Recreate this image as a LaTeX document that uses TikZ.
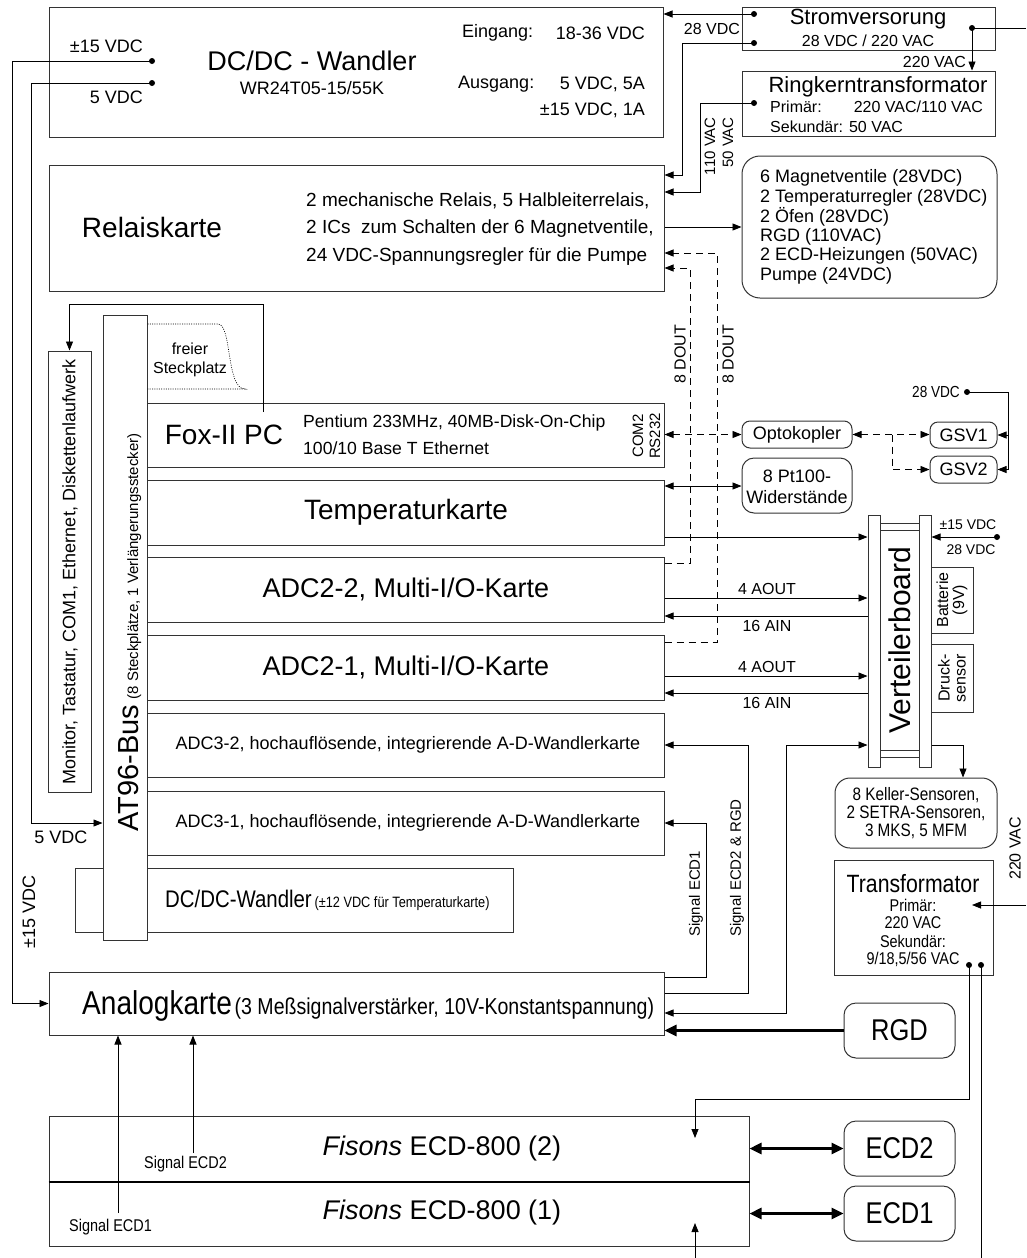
\documentclass[tikz,border=0pt]{standalone}
\usepackage{fontspec}
\setmainfont{Liberation Sans}
\newfontfamily\nar{Liberation Sans}[FakeStretch=0.85]
\usetikzlibrary{arrows.meta,fit}
\newcommand\fsz[1]{\fontsize{#1}{#1}\selectfont}
\begin{document}
\begin{tikzpicture}[x=1pt,y=-1pt,
 bx/.style={draw=black!80, line width=1pt, inner sep=0pt},
 rbx/.style={bx, rounded corners=12pt},
 wire/.style={draw=black, line width=0.8pt},
 arr/.style={wire, -{Triangle[length=9pt,width=7pt]}},
 darr/.style={wire, {Triangle[length=9pt,width=7pt]}-{Triangle[length=9pt,width=7pt]}},
 dsh/.style={wire, dash pattern=on 7pt off 5pt},
 thk/.style={draw=black, line width=2.6pt, -{Triangle[length=12pt,width=11pt]}},
 thkd/.style={draw=black, line width=2.6pt, {Triangle[length=12pt,width=11pt]}-{Triangle[length=12pt,width=11pt]}},
 blob/.style={circle, fill=black, inner sep=0pt, minimum size=6pt},
 every node/.append style={inner sep=0pt},
]
\useasboundingbox (0,0) rectangle (1026,1258);
\fill[white] (0,0) rectangle (1026,1258);

% ---------- DC/DC Wandler ----------
\node[bx, fit={(49,7)(663,137)}] (dc) {};
\node[font={\fsz{27}}] (dct) at (312,61) {DC/DC - Wandler};
\node[font={\fsz{18}}] (dcs) at (312,88) {WR24T05-15/55K};
\node[font={\fsz{18}}, anchor=west] (ein) at (462,33) {Eingang:};
\node[font={\fsz{18}}, anchor=east] (einv) at (645,33) {18-36 VDC};
\node[font={\fsz{18}}, anchor=west] (aus) at (458,84) {Ausgang:};
\node[font={\fsz{18}}, anchor=east] (ausv1) at (645,84) {5 VDC, 5A};
\node[font={\fsz{18}}, anchor=east] (ausv2) at (645,110) {±15 VDC, 1A};
\node[blob] (d15) at (152,61) {};
\node[blob] (d5) at (152,83) {};
\node[font={\fsz{18}}, anchor=east] (l15) at (143,46) {±15 VDC};
\node[font={\fsz{18}}, anchor=east] (l5) at (143,97) {5 VDC};

% ---------- Stromversorung ----------
\node[bx, fit={(742,7)(995,50)}] (strom) {};
\node[font={\fsz{22}}] (stt) at (868,19) {Stromversorung};
\node[font={\fsz{16}}] (sts) at (868,41) {28 VDC / 220 VAC};
\node[blob] (s1) at (754,14) {};
\node[blob] (s2) at (754,43) {};
\node[blob] (s3) at (972,28) {};
\node[font={\fsz{16}}] (l28) at (712,29) {28 VDC};

% ---------- Ringkerntransformator ----------
\node[bx, fit={(742,71)(995,136)}] (ring) {};
\node[font={\fsz{22}}] (rt) at (878,87) {Ringkerntransformator};
\node[font={\fsz{16}}, anchor=west] (rp) at (770,107) {Primär:};
\node[font={\fsz{16}}, anchor=east] (rpv) at (983,107) {220 VAC/110 VAC};
\node[font={\fsz{16}}, anchor=west] (rs) at (770,127) {Sekundär: 50 VAC};
\node[blob] (r1) at (754,103) {};
\node[font={\fsz{16}}, anchor=east] (l220) at (966,62) {220 VAC};

% ---------- Relaiskarte ----------
\node[bx, fit={(49,165)(664,291)}] (relais) {};
\node[font={\fsz{28}}] (relt) at (152,227) {Relaiskarte};
\node[font={\fsz{19}}, anchor=west] (rel1) at (306,201) {2 mechanische Relais, 5 Halbleiterrelais,};
\node[font={\fsz{19}}, anchor=west] (rel2) at (306,229) {2 ICs\ \ zum Schalten der 6 Magnetventile,};
\node[font={\fsz{19}}, anchor=west] (rel3) at (306,257) {24 VDC-Spannungsregler für die Pumpe};

\node[rbx, rounded corners=18pt, fit={(742,156)(997,298)}] (mag) {};
\node[font={\fsz{18}}, anchor=west] (m1) at (760,178) {6 Magnetventile (28VDC)};
\node[font={\fsz{18}}, anchor=west] (m2) at (760,197.5) {2 Temperaturregler (28VDC)};
\node[font={\fsz{18}}, anchor=west] (m3) at (760,217) {2 Öfen (28VDC)};
\node[font={\fsz{18}}, anchor=west] (m4) at (760,236.5) {RGD (110VAC)};
\node[font={\fsz{18}}, anchor=west] (m5) at (760,256) {2 ECD-Heizungen (50VAC)};
\node[font={\fsz{18}}, anchor=west] (m6) at (760,275.5) {Pumpe (24VDC)};

% ---------- Cards ----------
\node[bx, fit={(147,403)(664,467)}] (fox) {};
\node[bx, fit={(147,480)(664,545)}] (temp) {};
\node[bx, fit={(147,557)(664,622)}] (adc22) {};
\node[bx, fit={(147,635)(664,700)}] (adc21) {};
\node[bx, fit={(147,713)(664,777)}] (adc32) {};
\node[bx, fit={(147,791)(664,855)}] (adc31) {};
\node[bx, fit={(75,868)(513,932)}] (dcw) {};
\node[bx, fill=white, fit={(103,315)(147,940)}] (bus) {};
\node[bx, fit={(48,351)(91,792)}] (mon) {};
\node[bx, fit={(49,972)(664,1035)}] (ana) {};

\node[font={\fsz{28}}] (foxt) at (224,435) {Fox-II PC};
\node[font={\fsz{17.6}}, anchor=west] (fox1) at (303,423) {Pentium 233MHz, 40MB-Disk-On-Chip};
\node[font={\fsz{17.6}}, anchor=west] (fox2) at (303,448) {100/10 Base T Ethernet};
\node[font={\fsz{15}}, rotate=90] (com2) at (638,436) {COM2};
\node[font={\fsz{15}}, rotate=90] (rs232) at (655,436) {RS232};
\node[font={\fsz{28}}] (tempt) at (406,512) {Temperaturkarte};
\node[font={\fsz{27}}] (a22t) at (406,589) {ADC2-2, Multi-I/O-Karte};
\node[font={\fsz{27}}] (a21t) at (406,667) {ADC2-1, Multi-I/O-Karte};
\node[font={\fsz{18}}] (a32t) at (408,745) {ADC3-2, hochauflösende, integrierende A-D-Wandlerkarte};
\node[font={\fsz{18}}] (a31t) at (408,823) {ADC3-1, hochauflösende, integrierende A-D-Wandlerkarte};
\node[anchor=base west] (dcwt) at (165,907) {{\nar\fsz{24}DC/DC-Wandler} {\nar\fsz{15}(±12 VDC für Temperaturkarte)}};
\node[rotate=90, anchor=base west] (bust) at (138,832) {{\fsz{29}AT96-Bus}\ \ {\fsz{15}(8 Steckplätze, 1 Verlängerungsstecker)}};
\node[font={\fsz{18}}, rotate=90] (mont) at (70,572) {Monitor, Tastatur, COM1, Ethernet, Diskettenlaufwerk};
\node[anchor=base west] (anat) at (82,1014) {{\nar\fsz{33}Analogkarte} {\nar\fsz{23}(3 Meßsignalverstärker, 10V-Konstantspannung)}};

% freier Steckplatz
\draw[line width=0.6pt, dash pattern=on 1pt off 1.3pt] (bus.east |- 0,324) -- (218,324) .. controls (232,324) and (226,389) .. (245,389) -- (bus.east |- 0,389);
\node[font={\fsz{16}}] (fr1) at (190,349) {freier};
\node[font={\fsz{16}}] (fr2) at (190,369) {Steckplatz};
\coordinate (foxtap) at (263,412);
\draw[arr] (foxtap) -- (263,304) -| (mon.north);

% power wires
\draw[arr] (d15.center) -- (12,61) |- (ana.west);
\draw[arr] (d5.center) -- (31,83) |- (bus.west |- 0,823);
\node[font={\fsz{18}}] (l5b) at (61,837) {5 VDC};
\node[font={\fsz{18}}, rotate=90] (l15b) at (29,912) {±15 VDC};

\draw[arr] (s1.center) -- (s1 -| dc.east);
\draw[wire] (s3.center) -- (1026,28);
\draw[arr] (s3.center) -- (s3 |- ring.north);
\draw[arr] (s2.center) -| (682,175) -- (relais.east |- 0,175);
\draw[arr] (r1.center) -| (700,192) -- (relais.east |- 0,192);
\node[font={\fsz{15}}, rotate=90, anchor=east] (l110) at (710,117) {110 VAC};
\node[font={\fsz{15}}, rotate=90, anchor=east] (l50) at (728,117) {50 VAC};
\draw[arr] (relais.east |- 0,227) -- (mag.west |- 0,227);

% DOUT dashed
\draw[dsh, -{Triangle[length=9pt,width=7pt]}] (adc22.east |- 0,563) -| (690,268) -- (relais.east |- 0,268);
\draw[dsh, -{Triangle[length=9pt,width=7pt]}] (adc21.east |- 0,642) -| (717,253) -- (relais.east |- 0,253);
\node[font={\fsz{16}}, rotate=90, anchor=west] (do1) at (680,384) {8 DOUT};
\node[font={\fsz{16}}, rotate=90, anchor=west] (do2) at (728,384) {8 DOUT};

% Optokopler / GSV
\node[rbx, rounded corners=8pt, fit={(742,421)(852,448)}] (opto) {};
\node[font={\fsz{18}}] at (opto.center) {Optokopler};
\node[rbx, rounded corners=8pt, fit={(930,422)(997,448)}] (gsv1) {};
\node[font={\fsz{18}}] at (gsv1.center) {GSV1};
\node[rbx, rounded corners=8pt, fit={(930,456)(997,483)}] (gsv2) {};
\node[font={\fsz{18}}] at (gsv2.center) {GSV2};
\draw[dsh, {Triangle[length=9pt,width=7pt]}-{Triangle[length=9pt,width=7pt]}] (fox.east |- opto.west) -- (opto.west);
\draw[dsh, {Triangle[length=9pt,width=7pt]}-{Triangle[length=9pt,width=7pt]}] (opto.east) -- (gsv1.west |- opto.east);
\coordinate (oj) at (892,434.5);
\draw[dsh, -{Triangle[length=9pt,width=7pt]}] (oj) |- (gsv2.west);
\node[blob] (g28) at (967,392) {};
\node[font={\nar\fsz{16}}, anchor=east] (g28l) at (960,392) {28 VDC};
\draw[arr] (g28.center) -- (1008,392) |- (gsv2.east);
\draw[arr] (1008,435) -- (gsv1.east |- 0,435);

% Pt100
\node[rbx, rounded corners=12pt, fit={(742,458)(852,513)}] (pt) {};
\node[font={\fsz{18}}] (pt1) at (797,476) {8 Pt100-};
\node[font={\fsz{18}}] (pt2) at (797,497) {Widerstände};
\draw[darr] (temp.east |- 0,486) -- (pt.west |- 0,486);

% Verteilerboard
\node[bx, fill=white, fit={(868,515)(880,767)}] (vl) {};
\node[bx, fill=white, fit={(919,515)(931,767)}] (vr) {};
\node[bx, fit={(880,523)(919,530)}] (rung1) {};
\node[bx, fit={(880,750)(919,757)}] (rung2) {};
\node[font={\fsz{30}}, rotate=90] (vt) at (900,640) {Verteilerboard};
\node[bx, fit={(931,567)(973,633)}] (bat) {};
\node[font={\fsz{16}}, rotate=90, align=center] at (bat.center) {Batterie\\(9V)};
\node[bx, fit={(931,644)(973,712)}] (druck) {};
\node[font={\fsz{16}}, rotate=90, align=center] at (druck.center) {Druck-\\sensor};
\node[blob] (v15) at (997,537) {};
\draw[arr] (v15.center) -- (vr.east |- 0,537);
\node[font={\fsz{14}}] (v15l) at (968,525) {±15 VDC};
\node[font={\fsz{14}}] (v28l) at (971,550) {28 VDC};

\draw[arr] (temp.east |- 0,537) -- (vl.west |- 0,537);
\draw[arr] (adc22.east |- 0,598) -- (vl.west |- 0,598);
\draw[arr] (vl.west |- 0,616) -- (adc22.east |- 0,616);
\draw[arr] (adc21.east |- 0,676) -- (vl.west |- 0,676);
\draw[arr] (vl.west |- 0,693) -- (adc21.east |- 0,693);
\node[font={\fsz{16}}] (ao1) at (767,589) {4 AOUT};
\node[font={\fsz{16}}] (ai1) at (767,626) {16 AIN};
\node[font={\fsz{16}}] (ao2) at (767,667) {4 AOUT};
\node[font={\fsz{16}}] (ai2) at (767,703) {16 AIN};

% Keller
\node[rbx, rounded corners=15pt, fit={(835,778)(997,848)}] (kel) {};
\node[font={\nar\fsz{18}}] (k1) at (916,795) {8 Keller-Sensoren,};
\node[font={\nar\fsz{18}}] (k2) at (916,813) {2 SETRA-Sensoren,};
\node[font={\nar\fsz{18}}] (k3) at (916,831) {3 MKS, 5 MFM};
\draw[arr] (vr.east |- 0,745) -| (kel.north -| 963,0);

% signal lines to ADC3
\draw[arr] (ana.east |- 0,977) -- (706,977) -- (706,823) -- (adc31.east |- 0,823);
\draw[arr] (ana.east |- 0,993) -- (748,993) -- (748,745) -- (adc32.east |- 0,745);
\node[font={\fsz{15}}, rotate=90, anchor=west] (sg1) at (696,937) {Signal ECD1};
\node[font={\fsz{15}}, rotate=90, anchor=west] (sg2) at (737,937) {Signal ECD2 \& RGD};
\draw[darr] (ana.east |- 0,1013) -- (786,1013) |- (vl.west |- 0,745);

% Transformator
\node[bx, fit={(834,860)(993,975)}] (trafo) {};
\node[font={\nar\fsz{25}}] (tr1) at (913,884) {Transformator};
\node[font={\nar\fsz{17}}] (tr2) at (913,905) {Primär:};
\node[font={\nar\fsz{17}}] (tr3) at (913,923) {220 VAC};
\node[font={\nar\fsz{17}}] (tr4) at (913,941) {Sekundär:};
\node[font={\nar\fsz{17}}] (tr5) at (913,959) {9/18,5/56 VAC};
\node[blob] (t1) at (969,965) {};
\node[blob] (t2) at (981,965) {};
\draw[arr] (1026,905) -- (972,905);
\node[font={\fsz{16}}, rotate=90, anchor=west] (t220) at (1015,880) {220 VAC};

% RGD
\node[rbx, fit={(844,1003)(955,1058)}] (rgd) {};
\node[font={\nar\fsz{30}}] at (rgd.center) {RGD};
\draw[thk] (rgd.west) -- (ana.east |- rgd.west);

% Fisons
\node[bx, fit={(49,1116)(749,1181)}] (f2) {};
\node[bx, fit={(49,1181)(749,1246)}] (f1) {};
\draw[line width=2pt] (f2.south west) -- (f2.south east);
\node[font={\fsz{27}}] (f2t) at (442,1148) {\textit{Fisons} ECD-800 (2)};
\node[font={\fsz{27}}] (f1t) at (442,1212) {\textit{Fisons} ECD-800 (1)};
\node[rbx, fit={(844,1121)(955,1176)}] (ecd2) {};
\node[font={\nar\fsz{30}}] at (ecd2.center) {ECD2};
\node[rbx, fit={(844,1186)(955,1241)}] (ecd1) {};
\node[font={\nar\fsz{30}}] at (ecd1.center) {ECD1};
\draw[thkd] (f2.east |- ecd2.west) -- (ecd2.west);
\draw[thkd] (f1.east |- ecd1.west) -- (ecd1.west);
\node[font={\nar\fsz{17}}, anchor=west] (se2) at (144,1164) {Signal ECD2};
\node[font={\nar\fsz{17}}, anchor=west] (se1) at (69,1227) {Signal ECD1};
\draw[arr] (118,1213) -- (ana.south -| 118,0);
\draw[arr] (193,1153) -- (ana.south -| 193,0);
\draw[arr] (t1.center) -- (969,1099) -| (695,1138);
\draw[wire] (t2.center) -- (981,1258);
\draw[arr] (695,1258) -- (695,1223);
\end{tikzpicture}
\end{document}
